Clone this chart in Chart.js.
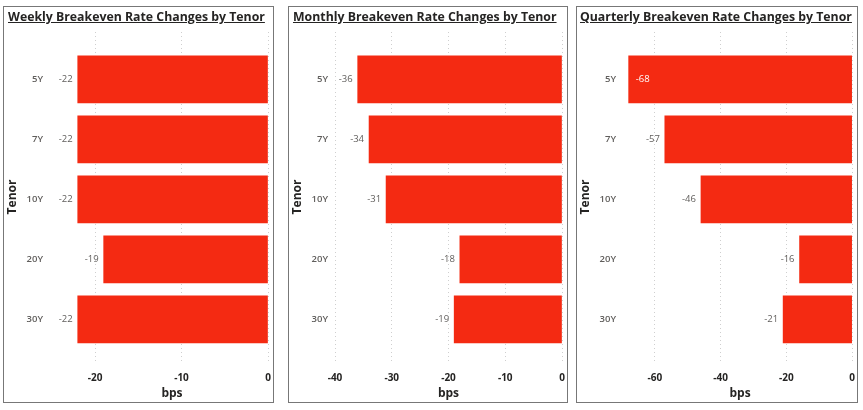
<!DOCTYPE html>
<html>
<head>
<meta charset="utf-8">
<script src="https://cdn.jsdelivr.net/npm/chart.js@4"></script>
<style>
    body { margin: 0; background: #fff; width: 863px; height: 410px; position: relative; overflow: hidden; }
    .panel { position: absolute; top: 6px; height: 395px; border: 1px solid #777; }
    .panel h2 {
        position: absolute; left: 4px; top: 1px; margin: 0;
        font: bold 12.3px "Open Sans", "Liberation Sans", sans-serif;
        color: #252423; text-decoration: underline; white-space: nowrap;
        line-height: 18px;
    }
    .panel canvas { position: absolute; left: 0; top: 0; }
</style>
</head>
<body>

<div class="panel" id="p1" style="left:3px;width:269px;">
    <canvas id="weeklyChart" width="269" height="395"></canvas>
    <h2>Weekly Breakeven Rate Changes by Tenor</h2>
</div>
<div class="panel" id="p2" style="left:288px;width:278px;">
    <canvas id="monthlyChart" width="278" height="395"></canvas>
    <h2>Monthly Breakeven Rate Changes by Tenor</h2>
</div>
<div class="panel" id="p3" style="left:576px;width:280px;">
    <canvas id="quarterlyChart" width="280" height="395"></canvas>
    <h2 style="left:3px;">Quarterly Breakeven Rate Changes by Tenor</h2>
</div>

<script>
var tenors = ['5Y', '7Y', '10Y', '20Y', '30Y'];

var weekly = [-22, -22, -22, -19, -22];
var monthly = [-36, -34, -31, -18, -19];
var quarterly = [-68, -57, -46, -16, -21];

var weeklyAxis = { min: -22.2, step: 10 };
var monthlyAxis = { min: -40, step: 10 };
var quarterlyAxis = { min: -68.2, step: 20 };

var barColor = '#F42A12';

// value labels at the left end of each bar (inside in white if no room)
var barLabels = {
    id: 'barLabels',
    afterDatasetsDraw: function (chart) {
        var ctx = chart.ctx;
        var meta = chart.getDatasetMeta(0);
        var data = chart.data.datasets[0].data;
        ctx.save();
        ctx.font = '9.5px "Open Sans", "Liberation Sans", sans-serif';
        ctx.textBaseline = 'middle';
        meta.data.forEach(function (bar, i) {
            var txt = String(data[i].x);
            var w = ctx.measureText(txt).width;
            if (bar.x - 5 - w < 45) {
                ctx.fillStyle = '#ffffff';
                ctx.textAlign = 'left';
                ctx.fillText(txt, bar.x + 7, bar.y);
            } else {
                ctx.fillStyle = '#605E5C';
                ctx.textAlign = 'right';
                ctx.fillText(txt, bar.x - 5, bar.y);
            }
        });
        ctx.restore();
    }
};

function makeChart(id, values, axis, yWidth, rightPad) {
    var points = values.map(function (v, i) {
        return { x: v, y: i };
    });
    var ctx = document.getElementById(id).getContext('2d');
    return new Chart(ctx, {
        type: 'bar',
        data: {
            datasets: [{
                data: points,
                backgroundColor: barColor,
                borderWidth: 0,
                barThickness: 47
            }]
        },
        plugins: [barLabels],
        options: {
            indexAxis: 'y',
            responsive: false,
            animation: false,
            layout: { padding: { top: 25, right: rightPad, bottom: 0, left: 0 } },
            plugins: {
                legend: { display: false },
                tooltip: { enabled: false }
            },
            scales: {
                x: {
                    type: 'linear',
                    min: axis.min,
                    max: 0,
                    afterFit: function (a) { a.height = 40; },
                    ticks: {
                        stepSize: axis.step,
                        includeBounds: false,
                        padding: 2,
                        color: '#252423',
                        font: { family: '"Open Sans", "Liberation Sans", sans-serif', size: 10, weight: 'bold' }
                    },
                    grid: {
                        drawTicks: true,
                        tickLength: 8,
                        tickColor: 'rgba(0,0,0,0)',
                        color: '#cfcfcf',
                        lineWidth: 1
                    },
                    // in v4 the gridline dash comes from border.dash
                    border: { display: false, dash: [1, 3] },
                    title: {
                        display: true,
                        text: 'bps',
                        color: '#252423',
                        padding: { top: 0, bottom: 1 },
                        font: { family: '"Open Sans", "Liberation Sans", sans-serif', size: 12, weight: 'bold' }
                    }
                },
                y: {
                    type: 'linear',
                    reverse: true,
                    offset: false,
                    min: -0.79,
                    max: 4.71,
                    afterFit: function (a) { a.width = yWidth; },
                    afterBuildTicks: function (a) {
                        a.ticks = tenors.map(function (t, i) { return { value: i }; });
                    },
                    ticks: {
                        padding: 2,
                        color: '#605E5C',
                        font: { family: '"Open Sans", "Liberation Sans", sans-serif', size: 9.5, weight: '600' },
                        callback: function (v) { return tenors[v]; }
                    },
                    grid: {
                        display: false,
                        drawTicks: true,
                        tickLength: yWidth - 41,
                        tickColor: 'rgba(0,0,0,0)'
                    },
                    border: { display: false },
                    title: {
                        display: true,
                        text: 'Tenor',
                        color: '#252423',
                        padding: { top: 1, bottom: 0 },
                        font: { family: '"Open Sans", "Liberation Sans", sans-serif', size: 12, weight: 'bold' }
                    }
                }
            }
        }
    });
}

var c1 = makeChart('weeklyChart', weekly, weeklyAxis, 72, 5);
var c2 = makeChart('monthlyChart', monthly, monthlyAxis, 46, 5);
var c3 = makeChart('quarterlyChart', quarterly, quarterlyAxis, 51, 4);
</script>
</body>
</html>
